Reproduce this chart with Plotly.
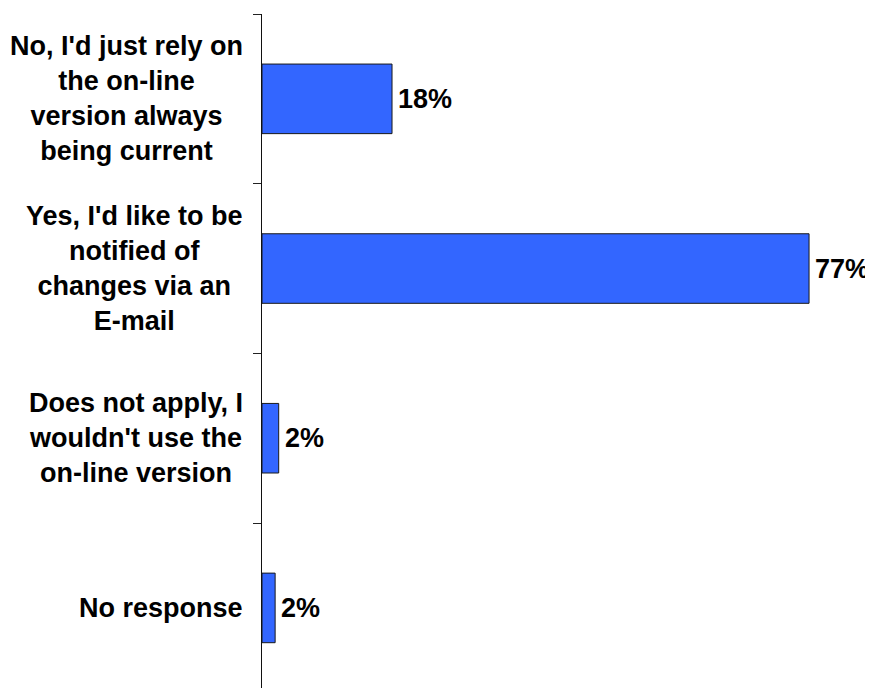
import plotly.graph_objects as go

categories = [
    "No, I'd just rely on<br>the on-line<br>version always<br>being current",
    "Yes, I'd like to be<br>notified of<br>changes via an<br>E-mail",
    "Does not apply, I<br>wouldn't use the<br>on-line version",
    "No response",
]
values = [18.3, 77.0, 2.35, 1.85]
value_labels = ["18%", "77%", "2%", "2%"]
boundaries = [-0.5, 0.5, 1.5, 2.5, 3.5]

FONT = "Liberation Sans, Arial, sans-serif"
positions = list(range(len(categories)))

fig = go.Figure(
    go.Bar(
        x=values,
        y=positions,
        orientation="h",
        width=0.41,
        marker=dict(color="#3366FF", line=dict(color="#1a1a1a", width=1)),
        hoverinfo="skip",
    )
)

annotations = []
for i, (cat, v, lab) in enumerate(zip(categories, values, value_labels)):
    annotations.append(dict(
        x=0, xref="paper", y=i, yref="y", text=cat, showarrow=False,
        xanchor="right", yanchor="middle", align="center", xshift=-17,
        font=dict(family=FONT, size=27, color="black", weight="bold"),
    ))
    annotations.append(dict(
        x=v, xref="x", y=i, yref="y", text=lab, showarrow=False,
        xanchor="left", yanchor="middle", xshift=4,
        font=dict(family=FONT, size=27, color="black", weight="bold"),
    ))

fig.update_layout(
    width=865, height=680,
    margin=dict(l=254, r=0, t=6, b=0),
    paper_bgcolor="white", plot_bgcolor="white",
    showlegend=False,
    annotations=annotations,
    xaxis=dict(range=[0, 86.0], visible=False, fixedrange=True),
    yaxis=dict(
        range=[3.472, -0.5], tickvals=boundaries, showticklabels=False,
        ticks="outside", ticklen=8, tickcolor="#222", tickwidth=1,
        showline=True, linecolor="#111", linewidth=1, showgrid=False,
        zeroline=False, fixedrange=True,
    ),
)

fig.write_html("out.html")
